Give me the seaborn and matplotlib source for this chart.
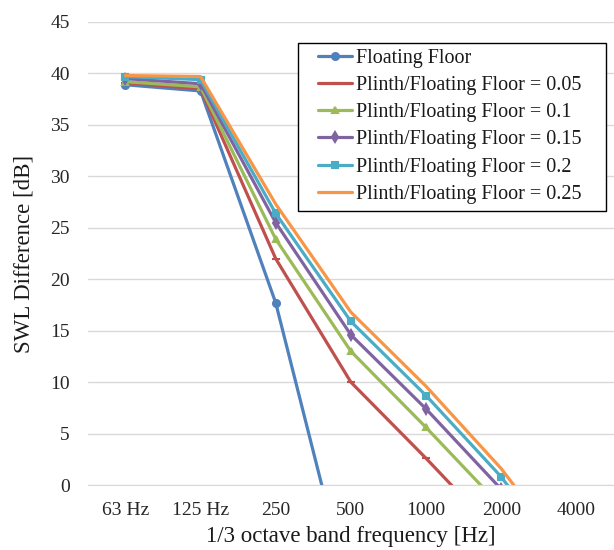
import pandas as pd
import seaborn as sns
import matplotlib.pyplot as plt
from matplotlib.patches import Rectangle

# values (dB)
bands = ["63 Hz", "125 Hz", "250", "500", "1000", "2000", "4000"]
floating_floor = [38.9, 38.3, 17.7, -11.2, -40.0, -60.0, -80.0]
ratio_005 = [39.1, 38.5, 22.0, 10.0, 2.6, -5.1, -15.0]
ratio_010 = [39.2, 38.7, 23.9, 13.0, 5.6, -2.1, -12.0]
ratio_015 = [39.5, 39.0, 25.5, 14.6, 7.4, -0.4, -10.0]
ratio_020 = [39.7, 39.4, 26.4, 15.9, 8.7, 0.8, -9.0]
ratio_025 = [39.8, 39.7, 27.3, 16.8, 9.6, 1.6, -8.0]

series = [
    ("Floating Floor", floating_floor, "#4F81BD", "o", 5),
    ("Plinth/Floating Floor = 0.05", ratio_005, "#C0504D", "_", 6),
    ("Plinth/Floating Floor = 0.1", ratio_010, "#9BBB59", "^", 5),
    ("Plinth/Floating Floor = 0.15", ratio_015, "#8064A2", "d", 5),
    ("Plinth/Floating Floor = 0.2", ratio_020, "#4BACC6", "s", 5),
    ("Plinth/Floating Floor = 0.25", ratio_025, "#F79646", None, 5),
]

sns.set_style("white")
plt.rcParams["font.family"] = ["Liberation Serif", "DejaVu Serif"]

fig = plt.figure(figsize=(6.14, 5.5), dpi=100)
ax = fig.add_axes([0.143, 0.118, 0.857, 0.842])

for name, vals, col, mk, ms in series:
    df = pd.DataFrame({"band": bands, "swl": vals})
    sns.lineplot(data=df, x="band", y="swl", ax=ax, color=col, marker=mk,
                 markersize=ms, markeredgecolor=col, markeredgewidth=1.5,
                 linewidth=2.3, label=name, sort=False)

ax.set_ylim(0, 45)
ax.set_xlim(-0.5, len(bands) - 0.5)
ax.set_yticks(range(0, 46, 5))
ax.grid(axis="y", color="#D9D9D9", linewidth=1)
ax.set_axisbelow(True)
for s in ["top", "right", "left"]:
    ax.spines[s].set_visible(False)
ax.spines["bottom"].set_color("#D9D9D9")
ax.tick_params(axis="both", length=0, labelsize=14, colors="#262626")
ax.tick_params(axis="x", pad=12)
ax.tick_params(axis="y", pad=13)

ax.set_xlabel("1/3 octave band frequency [Hz]", fontsize=16.5, color="#1a1a1a", labelpad=5)
ax.set_ylabel("SWL Difference [dB]", fontsize=16.5, color="#1a1a1a", labelpad=11)

# legend box drawn separately so the padding matches the original
ax.add_patch(Rectangle((0.399, 0.592), 0.586, 0.363, transform=ax.transAxes,
                       facecolor="white", edgecolor="black", linewidth=1.0,
                       zorder=5))
leg = ax.legend(loc="upper left", bbox_to_anchor=(0.438, 0.942), fontsize=14.5,
                frameon=False, handlelength=1.65, handletextpad=0.2,
                labelspacing=0.40, borderpad=0, borderaxespad=0)
leg.set_zorder(6)
for t in leg.get_texts():
    t.set_color("#1a1a1a")

fig.savefig("out.png", dpi=100)
